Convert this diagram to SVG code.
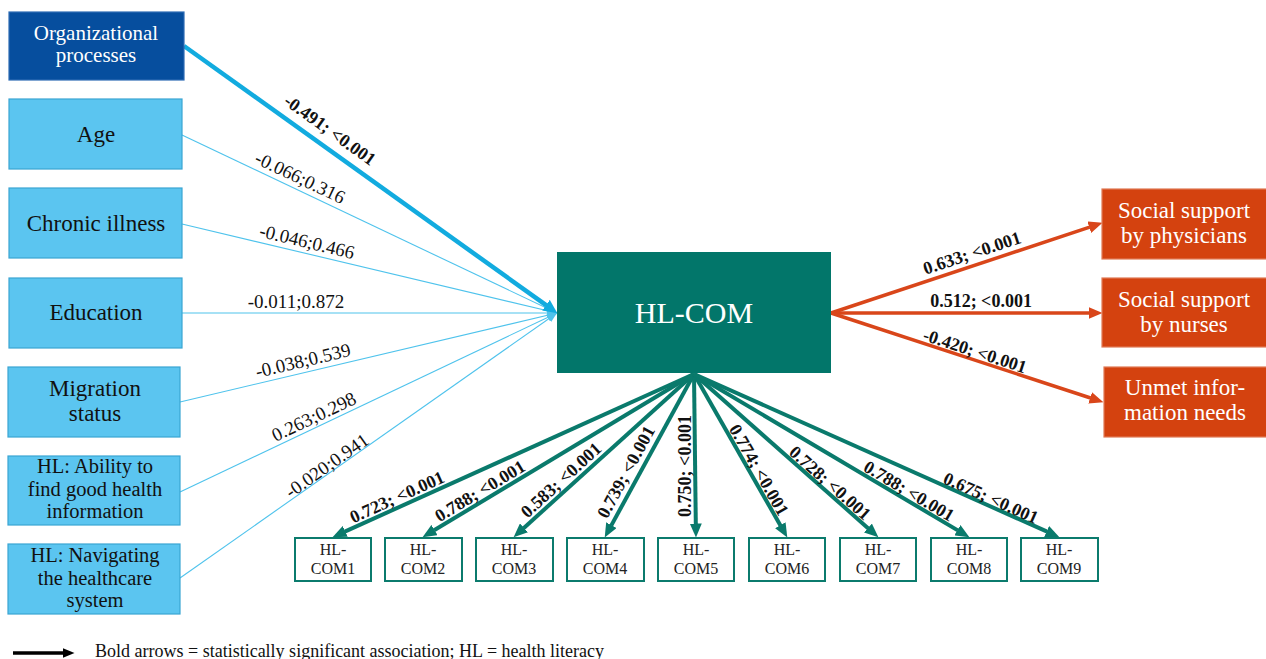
<svg xmlns="http://www.w3.org/2000/svg" width="1266" height="659" viewBox="0 0 1266 659">
<style>
text{font-family:"Liberation Serif","DejaVu Serif",serif;text-anchor:middle;}
.lb{fill:#5bc5f0;stroke:#3aa5d2;stroke-width:1.2;}
.db{fill:#064e9e;stroke:#2d6cb5;stroke-width:1.2;}
.or{fill:#d4420f;stroke:#e07a55;stroke-width:1.2;}
.tl{fill:#02766a;}
.sm{fill:#ffffff;stroke:#0b7b6d;stroke-width:2;}
.nt{font-size:23px;fill:#111;}
.nts{font-size:20.5px;fill:#111;}
.wt{font-size:23px;fill:#fff;}
.bt{font-size:16px;fill:#222;}
.lab{font-size:19px;fill:#111;}
.blab{font-size:18px;font-weight:bold;fill:#111;}
.thin{stroke:#4fc3ec;stroke-width:1.1;fill:none;}
.thick{stroke:#12abdf;stroke-width:4.5;fill:none;}
.ora{stroke:#d9461a;stroke-width:3.5;fill:none;}
.tea{stroke:#0a7a6c;stroke-width:4;fill:none;}
</style>
<defs>
<marker id="hThin" markerUnits="userSpaceOnUse" markerWidth="10" markerHeight="8" viewBox="0 0 10 8" refX="10" refY="4" orient="auto"><path d="M0,0 L10,4 L0,8 z" fill="#4fc3ec"/></marker>
<marker id="hBlue" markerUnits="userSpaceOnUse" markerWidth="14" markerHeight="13" viewBox="0 0 14 13" refX="0.5" refY="6.5" orient="auto"><path d="M0,0 L14,6.5 L0,13 z" fill="#12abdf"/></marker>
<marker id="hOr" markerUnits="userSpaceOnUse" markerWidth="14" markerHeight="12" viewBox="0 0 14 12" refX="0.5" refY="6" orient="auto"><path d="M0,0 L14,6 L0,12 z" fill="#d9461a"/></marker>
<marker id="hTe" markerUnits="userSpaceOnUse" markerWidth="14" markerHeight="12" viewBox="0 0 14 12" refX="0.5" refY="6" orient="auto"><path d="M0,0 L14,6 L0,12 z" fill="#0a7a6c"/></marker>
<marker id="hBk" markerUnits="userSpaceOnUse" markerWidth="12" markerHeight="10" viewBox="0 0 12 10" refX="0.5" refY="5" orient="auto"><path d="M0,0 L12,5 L0,10 z" fill="#000"/></marker>
</defs>

<g id="connectors">
<path class="thin" d="M182,135 L557,313" marker-end="url(#hThin)"/>
<path class="thin" d="M182,224 L557,313" marker-end="url(#hThin)"/>
<path class="thin" d="M182,313 L557,313" marker-end="url(#hThin)"/>
<path class="thin" d="M180,402 L557,313" marker-end="url(#hThin)"/>
<path class="thin" d="M180,492 L557,313" marker-end="url(#hThin)"/>
<path class="thin" d="M180,578 L557,313" marker-end="url(#hThin)"/>
<path class="thick" d="M184,46 L546.4,305.4" marker-end="url(#hBlue)"/>

<path class="ora" d="M831,313 L1089.7,227.1" marker-end="url(#hOr)"/>
<path class="ora" d="M831,313 L1089,313" marker-end="url(#hOr)"/>
<path class="ora" d="M831,313 L1090.6,398" marker-end="url(#hOr)"/>

<path class="tea" d="M694,374 L344.8,531.6" marker-end="url(#hTe)"/>
<path class="tea" d="M694,374 L434.1,530.3" marker-end="url(#hTe)"/>
<path class="tea" d="M694,374 L523.6,528.2" marker-end="url(#hTe)"/>
<path class="tea" d="M694,374 L611.2,525.6" marker-end="url(#hTe)"/>
<path class="tea" d="M694,374 L695.8,524" marker-end="url(#hTe)"/>
<path class="tea" d="M694,374 L780.6,525.7" marker-end="url(#hTe)"/>
<path class="tea" d="M694,374 L868.3,528.4" marker-end="url(#hTe)"/>
<path class="tea" d="M694,374 L957.8,530.4" marker-end="url(#hTe)"/>
<path class="tea" d="M694,374 L1047.1,531.7" marker-end="url(#hTe)"/>

<g id="edge-labels">
<text class="blab" transform="translate(330,130) rotate(35.6)" y="6">-0.491; &lt;0.001</text>
<text class="lab" transform="translate(300,178) rotate(25.4)" y="6">-0.066;0.316</text>
<text class="lab" transform="translate(307,242) rotate(13.4)" y="6">-0.046;0.466</text>
<text class="lab" transform="translate(296,302) rotate(0)" y="6">-0.011;0.872</text>
<text class="lab" transform="translate(303,361) rotate(-13.3)" y="6">-0.038;0.539</text>
<text class="lab" transform="translate(314,417) rotate(-25.4)" y="6">0.263;0.298</text>
<text class="lab" transform="translate(327,466) rotate(-35.1)" y="6">-0.020;0.941</text>

<text class="blab" transform="translate(972,253) rotate(-18.4)" y="6">0.633; &lt;0.001</text>
<text class="blab" transform="translate(981,301)" y="6">0.512; &lt;0.001</text>
<text class="blab" transform="translate(975,351) rotate(18.1)" y="6">-0.420; &lt;0.001</text>

<text class="blab" transform="translate(397,497) rotate(-24.4)" y="6">0.723; &lt;0.001</text>
<text class="blab" transform="translate(480,491) rotate(-31.1)" y="6">0.788; &lt;0.001</text>
<text class="blab" transform="translate(561,480) rotate(-42.3)" y="6">0.583; &lt;0.001</text>
<text class="blab" transform="translate(626,472) rotate(-61.6)" y="6">0.739; &lt;0.001</text>
<text class="blab" transform="translate(685,466) rotate(-90)" y="6">0.750; &lt;0.001</text>
<text class="blab" transform="translate(759,470) rotate(60.3)" y="6">0.774; &lt;0.001</text>
<text class="blab" transform="translate(830,483) rotate(41.5)" y="6">0.728; &lt;0.001</text>
<text class="blab" transform="translate(909,491) rotate(30.7)" y="6">0.788; &lt;0.001</text>
<text class="blab" transform="translate(991,498) rotate(24.1)" y="6">0.675; &lt;0.001</text>
</g>
</g>

<g id="node-org">
<rect class="db" x="9" y="12" width="175" height="68"/>
<text style="font-size:21px;fill:#fff" x="96" y="40">Organizational</text>
<text style="font-size:21px;fill:#fff" x="96" y="62">processes</text>
</g>
<g id="node-age">
<rect class="lb" x="9" y="99" width="173" height="70"/>
<text class="nt" x="96" y="142">Age</text>
</g>
<g id="node-chronic">
<rect class="lb" x="9" y="188" width="173" height="70"/>
<text class="nt" x="96" y="231">Chronic illness</text>
</g>
<g id="node-education">
<rect class="lb" x="9" y="278" width="173" height="70"/>
<text class="nt" x="96" y="320">Education</text>
</g>
<g id="node-migration">
<rect class="lb" x="8" y="367" width="172" height="70"/>
<text class="nt" x="95" y="396">Migration</text>
<text class="nt" x="95" y="421">status</text>
</g>
<g id="node-ability">
<rect class="lb" x="8" y="456" width="172" height="69"/>
<text class="nts" x="95" y="473">HL: Ability to</text>
<text class="nts" x="95" y="496">find good health</text>
<text class="nts" x="95" y="518">information</text>
</g>
<g id="node-navigating">
<rect class="lb" x="8" y="544" width="172" height="70"/>
<text class="nts" x="95" y="562">HL: Navigating</text>
<text class="nts" x="95" y="585">the healthcare</text>
<text class="nts" x="95" y="607">system</text>
</g>

<g id="node-hlcom">
<rect class="tl" x="557" y="252" width="274" height="121"/>
<text x="694" y="323" style="font-size:30px;fill:#fff">HL-COM</text>
</g>

<g id="node-physicians">
<rect class="or" x="1102" y="189" width="170" height="70"/>
<text class="wt" x="1184" y="218">Social support</text>
<text class="wt" x="1184" y="243">by physicians</text>
</g>
<g id="node-nurses">
<rect class="or" x="1102" y="278" width="170" height="69"/>
<text class="wt" x="1184" y="307">Social support</text>
<text class="wt" x="1184" y="332">by nurses</text>
</g>
<g id="node-unmet">
<rect class="or" x="1104" y="367" width="168" height="70"/>
<text class="wt" x="1185" y="395">Unmet infor-</text>
<text class="wt" x="1185" y="420">mation needs</text>
</g>

<g id="node-com1"><rect class="sm" x="295" y="538" width="76" height="43"/><text class="bt" x="333" y="555">HL-</text><text class="bt" x="333" y="574">COM1</text></g>
<g id="node-com2"><rect class="sm" x="385" y="538" width="77" height="43"/><text class="bt" x="423" y="555">HL-</text><text class="bt" x="423" y="574">COM2</text></g>
<g id="node-com3"><rect class="sm" x="476" y="538" width="77" height="43"/><text class="bt" x="514" y="555">HL-</text><text class="bt" x="514" y="574">COM3</text></g>
<g id="node-com4"><rect class="sm" x="567" y="538" width="77" height="43"/><text class="bt" x="605" y="555">HL-</text><text class="bt" x="605" y="574">COM4</text></g>
<g id="node-com5"><rect class="sm" x="658" y="538" width="76" height="43"/><text class="bt" x="696" y="555">HL-</text><text class="bt" x="696" y="574">COM5</text></g>
<g id="node-com6"><rect class="sm" x="749" y="538" width="76" height="43"/><text class="bt" x="787" y="555">HL-</text><text class="bt" x="787" y="574">COM6</text></g>
<g id="node-com7"><rect class="sm" x="840" y="538" width="76" height="43"/><text class="bt" x="878" y="555">HL-</text><text class="bt" x="878" y="574">COM7</text></g>
<g id="node-com8"><rect class="sm" x="931" y="538" width="76" height="43"/><text class="bt" x="969" y="555">HL-</text><text class="bt" x="969" y="574">COM8</text></g>
<g id="node-com9"><rect class="sm" x="1021" y="538" width="77" height="43"/><text class="bt" x="1059" y="555">HL-</text><text class="bt" x="1059" y="574">COM9</text></g>

<g id="legend">
<path d="M13,653 L63,653" stroke="#000" stroke-width="3.5" fill="none" marker-end="url(#hBk)"/>
<text x="95" y="657" style="font-size:18px;fill:#111;text-anchor:start">Bold arrows = statistically significant association; HL = health literacy</text>
</g>
</svg>
